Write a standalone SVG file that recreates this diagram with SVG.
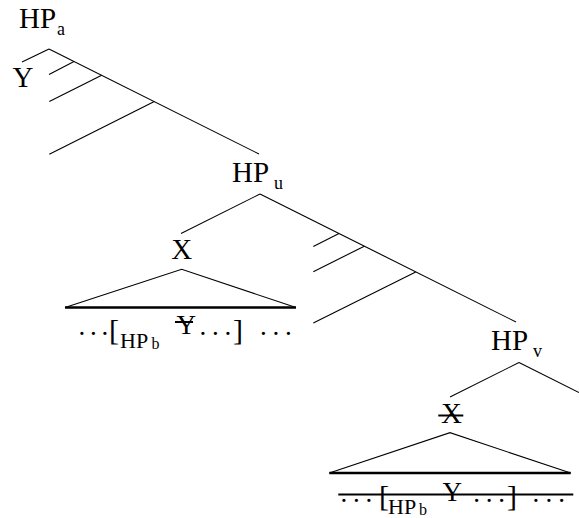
<svg xmlns="http://www.w3.org/2000/svg" width="579" height="518" viewBox="0 0 579 518">
<style>
text{font-family:"Liberation Serif","Times New Roman",serif;fill:#000}
.lab{font-size:29px}
.sub{font-size:18px}
.row{font-size:27px}
.rsub{font-size:22px}
.rsub2{font-size:16px}
.br{font-size:30px}
.edge{stroke:#000;stroke-width:1.1;fill:none}
.thick{stroke:#000;stroke-width:2.4;fill:none}
.strike{stroke:#000;stroke-width:2;fill:none}
</style>
<rect width="579" height="518" fill="#fff"/>
<g id="connectors">
<line class="edge" x1="49" y1="49" x2="22" y2="62"/>
<line class="edge" x1="49" y1="49" x2="259" y2="154"/>
<line class="edge" x1="74" y1="61.5" x2="49" y2="74.5"/>
<line class="edge" x1="101.7" y1="75.3" x2="49.3" y2="101.5"/>
<line class="edge" x1="154.3" y1="101.6" x2="49.3" y2="154.2"/>
<line class="edge" x1="260" y1="194" x2="181" y2="233.5"/>
<line class="edge" x1="260" y1="194" x2="516" y2="322"/>
<line class="edge" x1="339" y1="233.5" x2="313.3" y2="246.4"/>
<line class="edge" x1="364.3" y1="246.2" x2="313.3" y2="271.7"/>
<line class="edge" x1="415.7" y1="271.9" x2="313.3" y2="323.1"/>
<line class="edge" x1="519" y1="362.5" x2="450" y2="397"/>
<line class="edge" x1="519" y1="362.5" x2="579" y2="392.5"/>
</g>
<g id="HPa"><text class="lab" x="19" y="28">HP</text><text class="sub" x="57" y="35">a</text></g>
<g id="Y"><text class="lab" x="12.5" y="87">Y</text></g>
<g id="HPu"><text class="lab" x="232" y="182">HP</text><text class="sub" x="274" y="189">u</text></g>
<g id="X1"><text class="lab" x="181.7" y="259" text-anchor="middle">X</text></g>
<g id="tri1">
<polyline class="edge" points="65,307.5 181.7,269.3 296,307.5"/>
<line class="thick" x1="65" y1="307.5" x2="296" y2="307.5"/>
</g>
<g id="row1">
<text class="row" x="78.6 90.1 101.6" y="335">...</text>
<text class="br" x="109" y="340">[</text>
<text class="rsub" x="120" y="348">HP</text>
<text class="rsub2" x="151.5" y="349">b</text>
<text class="row" x="176.5" y="334">Y</text>
<line class="strike" x1="175" y1="322" x2="193" y2="322"/>
<text class="row" x="199.6 212.1 224.6" y="335">...</text>
<text class="br" x="233" y="340">]</text>
<text class="row" x="260.1 272.6 285.1" y="335">...</text>
</g>
<g id="HPv"><text class="lab" x="491" y="349.5">HP</text><text class="sub" x="533" y="356.5">v</text></g>
<g id="X2"><text class="lab" x="451.5" y="423" text-anchor="middle">X</text><line class="strike" x1="438.3" y1="415.5" x2="463.3" y2="415.5"/></g>
<g id="tri2">
<polyline class="edge" points="329.3,473 450,432.7 570.7,473"/>
<line class="thick" x1="329.3" y1="473" x2="570.7" y2="473"/>
</g>
<g id="row2">
<text class="row" x="340.6 353.1 365.6" y="502">...</text>
<text class="br" x="379" y="506">[</text>
<text class="rsub" x="388" y="513.5">HP</text>
<text class="rsub2" x="419" y="514.5">b</text>
<text class="row" x="442.5" y="501">Y</text>
<text class="row" x="473.3 485.8 498.3" y="502">...</text>
<text class="br" x="507" y="506">]</text>
<text class="row" x="532.6 545.6 558.3" y="502">...</text>
<line class="strike" x1="338.3" y1="494.5" x2="573.3" y2="494.5"/>
</g>
</svg>
